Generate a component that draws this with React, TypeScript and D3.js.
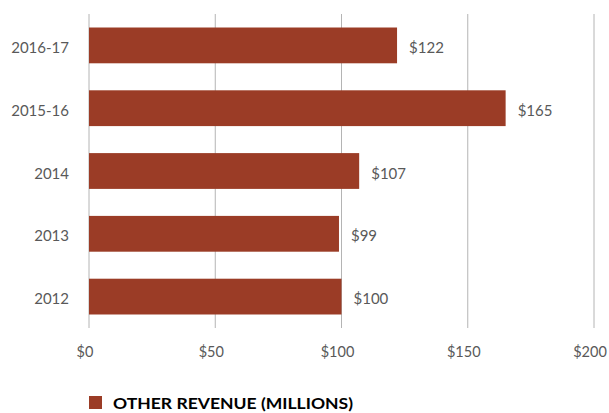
import React from "react";
import * as d3 from "d3";

const categories = ["2016-17", "2015-16", "2014", "2013", "2012"];
const values = [122, 165, 107, 99, 100];
const xTicks = [0, 50, 100, 150, 200];
const legendLabel = "OTHER REVENUE (MILLIONS)";

export default function App() {
  const W = 609, H = 413;
  const x = d3.scaleLinear().domain([0, 200]).range([89, 594]);
  const y = d3.scaleBand<string>().domain(categories).range([14, 328]).paddingInner(0.43).paddingOuter(0.215);
  const font = "Lato, 'Open Sans', sans-serif";
  const color = "#9B3C26";
  return (
    <svg width={W} height={H} style={{ position: "absolute", left: 0, top: 0 }} fontFamily={font}>
      {xTicks.map((t) => (
        <g key={t}>
          <line x1={x(t)} x2={x(t)} y1={14} y2={328} stroke="#b4b4b4" strokeWidth={1} />
          <text x={x(t) - 4} y={357} textAnchor="middle" fontSize={14.5} fill="#595959">${t}</text>
        </g>
      ))}
      {categories.map((c, i) => {
        const yy = y(c)!;
        const bw = y.bandwidth();
        return (
          <g key={c}>
            <rect x={x(0)} y={yy} width={x(values[i]) - x(0)} height={bw} fill={color} />
            <text x={69} y={yy + bw / 2 + 7.5} textAnchor="end" fontSize={15} fill="#595959">{c}</text>
            <text x={x(values[i]) + 12} y={yy + bw / 2 + 7.5} fontSize={15} fill="#595959">${values[i]}</text>
          </g>
        );
      })}
      <rect x={89} y={396} width={13} height={13} fill={color} />
      <text x={113} y={409} fontSize={16} fontWeight="bold" fill="#000" textLength={240} lengthAdjust="spacingAndGlyphs">{legendLabel}</text>
    </svg>
  );
}
